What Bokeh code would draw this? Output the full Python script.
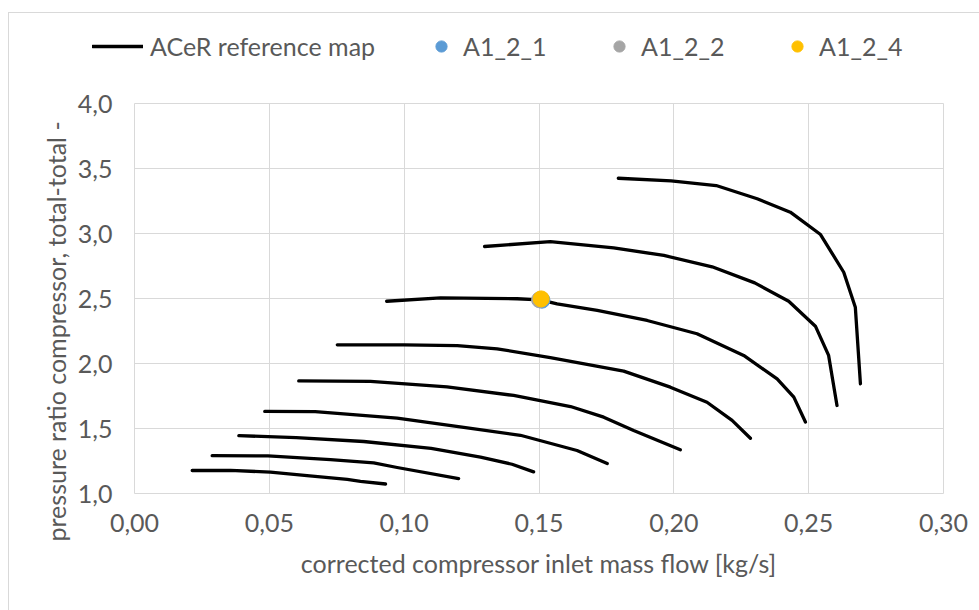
from bokeh.plotting import figure
from bokeh.layouts import column
from bokeh.models import (ColumnDataSource, Legend, LegendItem, Title, Plot,
                          FixedTicker, CustomJSTickFormatter, Range1d)
from bokeh.embed import file_html
from bokeh.resources import INLINE

# ACeR reference compressor map: speed lines, corrected mass flow [kg/s] vs. pressure ratio
speed_1_flow = [0.0214, 0.0356, 0.0504, 0.0640, 0.0789, 0.0838, 0.0931]
speed_1_pr = [1.177, 1.178, 1.164, 1.138, 1.108, 1.094, 1.073]

speed_2_flow = [0.0288, 0.0495, 0.0727, 0.0887, 0.0974, 0.1202]
speed_2_pr = [1.291, 1.289, 1.260, 1.235, 1.200, 1.115]

speed_3_flow = [0.0387, 0.0600, 0.0850, 0.1100, 0.1283, 0.1400, 0.1480]
speed_3_pr = [1.445, 1.430, 1.400, 1.347, 1.280, 1.225, 1.166]

speed_4_flow = [0.0483, 0.0670, 0.0974, 0.1221, 0.1431, 0.1641, 0.1753]
speed_4_pr = [1.631, 1.630, 1.580, 1.508, 1.448, 1.331, 1.230]

speed_5_flow = [0.0609, 0.0875, 0.1159, 0.1406, 0.1617, 0.1740, 0.1851, 0.2024]
speed_5_pr = [1.866, 1.862, 1.820, 1.754, 1.669, 1.587, 1.485, 1.336]

speed_6_flow = [0.0752, 0.0999, 0.1197, 0.1345, 0.1542, 0.1814, 0.1987, 0.2123, 0.2216, 0.2284]
speed_6_pr = [2.144, 2.144, 2.138, 2.113, 2.045, 1.941, 1.818, 1.702, 1.562, 1.425]

speed_7_flow = [0.0935, 0.1135, 0.1419, 0.1505, 0.1567, 0.1716, 0.1901, 0.2086, 0.2259, 0.2383, 0.2445, 0.2488]
speed_7_pr = [2.479, 2.505, 2.498, 2.490, 2.459, 2.408, 2.331, 2.229, 2.062, 1.882, 1.741, 1.550]

speed_8_flow = [0.1298, 0.1542, 0.1777, 0.1963, 0.2142, 0.2300, 0.2426, 0.2525, 0.2574, 0.2605]
speed_8_pr = [2.900, 2.938, 2.890, 2.831, 2.744, 2.620, 2.479, 2.287, 2.062, 1.677]

speed_9_flow = [0.1794, 0.1990, 0.2157, 0.2309, 0.2432, 0.2544, 0.2630, 0.2673, 0.2692]
speed_9_pr = [3.425, 3.405, 3.369, 3.267, 3.164, 2.992, 2.702, 2.433, 1.844]

# Measured operating points
a1_2_1_flow = [0.1511]
a1_2_1_pr = [2.487]
a1_2_2_flow = [0.1502]
a1_2_2_pr = [2.490]
a1_2_4_flow = [0.1508]
a1_2_4_pr = [2.497]

x_ticks = [0.00, 0.05, 0.10, 0.15, 0.20, 0.25, 0.30]
y_ticks = [1.0, 1.5, 2.0, 2.5, 3.0, 3.5, 4.0]

TEXT = "#595959"
GRID = "#d9d9d9"
FONT = "Lato"
FS = "25px"
BLUE, GREY, GOLD = "#5B9BD5", "#A5A5A5", "#FFC000"
MAP_STYLE = dict(line_color="black", line_width=3.3, line_join="round", line_cap="round")

map_source = ColumnDataSource(dict(
    xs=[speed_1_flow, speed_2_flow, speed_3_flow, speed_4_flow, speed_5_flow,
        speed_6_flow, speed_7_flow, speed_8_flow, speed_9_flow],
    ys=[speed_1_pr, speed_2_pr, speed_3_pr, speed_4_pr, speed_5_pr,
        speed_6_pr, speed_7_pr, speed_8_pr, speed_9_pr],
))

# ---- main chart -------------------------------------------------------------
p = figure(frame_width=809, frame_height=390,
           min_border_left=125, min_border_right=36,
           min_border_top=20, min_border_bottom=117,
           x_range=Range1d(0.0, 0.30), y_range=Range1d(1.0, 4.0),
           output_backend="svg", toolbar_location=None)
p.background_fill_color = "white"
p.border_fill_color = "white"
p.outline_line_color = GRID
p.outline_line_width = 1

for grid in (p.xgrid, p.ygrid):
    grid.grid_line_color = GRID
    grid.grid_line_width = 1

p.xaxis.ticker = FixedTicker(ticks=x_ticks)
p.yaxis.ticker = FixedTicker(ticks=y_ticks)
p.xaxis.formatter = CustomJSTickFormatter(code="return tick.toFixed(2).replace('.', ',');")
p.yaxis.formatter = CustomJSTickFormatter(code="return tick.toFixed(1).replace('.', ',');")

for ax in (p.xaxis, p.yaxis):
    ax.axis_line_color = None
    ax.major_tick_line_color = None
    ax.minor_tick_line_color = None
    ax.major_tick_in = 0
    ax.major_tick_out = 0
    ax.major_label_text_font = FONT
    ax.major_label_text_font_size = FS
    ax.major_label_text_color = TEXT

p.xaxis.major_label_standoff = 20
p.yaxis.major_label_standoff = 22

p.xaxis.axis_label = "corrected compressor inlet mass flow [kg/s]"
p.xaxis.axis_label_text_font = FONT
p.xaxis.axis_label_text_font_size = FS
p.xaxis.axis_label_text_font_style = "normal"
p.xaxis.axis_label_text_color = TEXT
p.xaxis.axis_label_standoff = 13

# vertical axis title, sitting a little below the plot-area centre
p.add_layout(Title(text="pressure ratio compressor, total-total -", align="left",
                   offset=-48, standoff=8, text_font=FONT, text_font_size=FS,
                   text_font_style="normal", text_color=TEXT), "left")

p.multi_line("xs", "ys", source=map_source, **MAP_STYLE)
p.scatter(a1_2_1_flow, a1_2_1_pr, size=16, fill_color=BLUE, line_color=BLUE)
p.scatter(a1_2_2_flow, a1_2_2_pr, size=16, fill_color=GREY, line_color=GREY)
p.scatter(a1_2_4_flow, a1_2_4_pr, size=16, fill_color=GOLD, line_color=GOLD)

# ---- legend strip ------------------------------------------------------------
# Same series again; the strip's y range (0..1) lies below every pressure ratio,
# so only the legend keys show up here.
leg = figure(width=970, height=70, x_range=Range1d(0, 1), y_range=Range1d(0, 1),
             x_axis_location=None, y_axis_location=None,
             min_border_left=0, min_border_right=0, min_border_top=0, min_border_bottom=0,
             output_backend="svg", toolbar_location=None)
leg.grid.visible = False
leg.outline_line_color = None
leg.background_fill_color = "white"
leg.border_fill_color = "white"

if "frame_align" in Plot.properties():
    leg.frame_align = False
    p.frame_align = False

key_map = leg.multi_line("xs", "ys", source=map_source, **MAP_STYLE)
key_a1 = leg.scatter(a1_2_1_flow, a1_2_1_pr, size=16, fill_color=BLUE, line_color=BLUE)
key_a2 = leg.scatter(a1_2_2_flow, a1_2_2_pr, size=16, fill_color=GREY, line_color=GREY)
key_a4 = leg.scatter(a1_2_4_flow, a1_2_4_pr, size=16, fill_color=GOLD, line_color=GOLD)


def add_key(label, renderer, x, glyph_w, standoff):
    lg = Legend(items=[LegendItem(label=label, renderers=[renderer])],
                location=(x, 22), orientation="horizontal",
                glyph_width=glyph_w, glyph_height=28, label_height=28,
                label_standoff=standoff, padding=0, margin=0, spacing=0,
                border_line_color=None, background_fill_alpha=0,
                label_text_font=FONT, label_text_font_size=FS,
                label_text_color=TEXT)
    leg.add_layout(lg, "center")


add_key("ACeR reference map", key_map, 83, 51, 7)
add_key("A1_2_1", key_a1, 418, 28, 8)
add_key("A1_2_2", key_a2, 596, 28, 8)
add_key("A1_2_4", key_a4, 774, 28, 8)

layout = column(leg, p, spacing=0)
layout.styles = {"margin-left": "8px", "margin-top": "12px",
                 "border-top": "1px solid #d9d9d9", "border-left": "1px solid #d9d9d9"}

open("out.html", "w").write(file_html(layout, INLINE))
